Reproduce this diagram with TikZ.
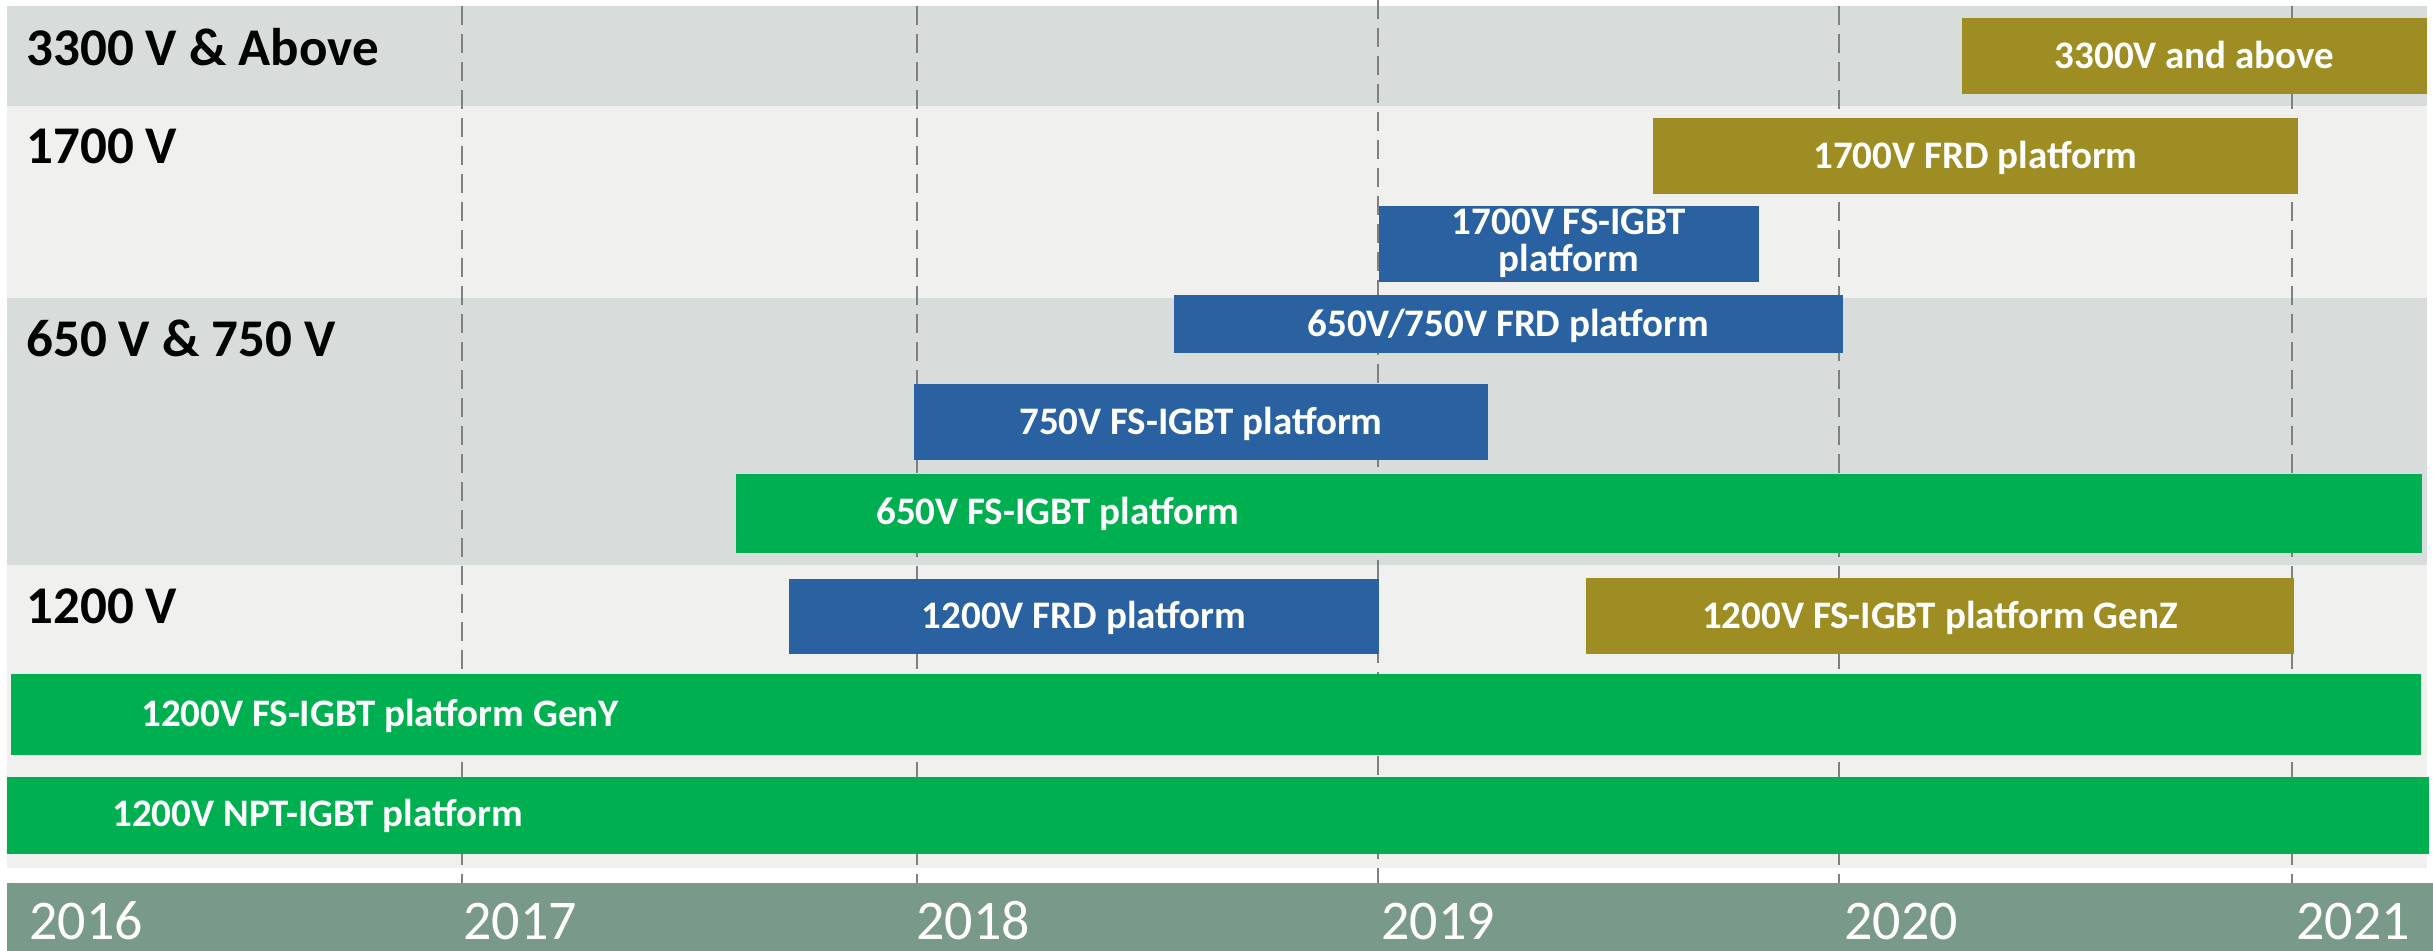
\documentclass[tikz,border=0pt]{standalone}
\usepackage{fontspec}
\setmainfont{Carlito}
\definecolor{bandA}{HTML}{D8DCDB}
\definecolor{bandB}{HTML}{F0F0EE}
\definecolor{gr}{HTML}{00AF50}
\definecolor{bl}{HTML}{2A62A1}
\definecolor{ol}{HTML}{9E8D22}
\definecolor{yr}{HTML}{799A88}
\definecolor{dl}{HTML}{808080}
\newcommand{\tlbar}[7]{%
  \node[barbox, fill=#6, minimum width={(#4-#2)*0.5pt}, minimum height={(#5-#3)*0.5pt}]
    (#1) at ({(#2+#4)/2},{(#3+#5)/2}) {#7};}
\begin{document}
\begin{tikzpicture}[x=0.5pt,y=-0.5pt,
 barbox/.style={rectangle, inner sep=0pt, text=white,
   text height=12.5pt, text depth=0pt,
   font=\fontsize{19.5}{18.5}\selectfont\bfseries},
 barlabel/.style={anchor=base west, inner sep=0pt, text=white,
   font=\fontsize{19.5}{18.5}\selectfont\bfseries},
 rowlabel/.style={anchor=base west, inner sep=0pt, text=black,
   font=\fontsize{26.5}{30}\selectfont\bfseries},
 yearlabel/.style={anchor=base west, inner sep=0pt, text=white,
   font=\fontsize{28}{32}\selectfont},
 tick/.style={draw=dl, line width=1pt, dash pattern=on 9.5pt off 4.5pt}]
\useasboundingbox (0,0) rectangle (2433,951);
\fill[white] (0,0) rectangle (2433,951);
% bands
\fill[bandA] (7,6) rectangle (2427,106);
\fill[bandB] (7,106) rectangle (2427,298);
\fill[bandA] (7,298) rectangle (2427,565);
\fill[bandB] (7,565) rectangle (2427,868);
\fill[yr] (7,883) rectangle (2433,951);
% year ticks
\draw[tick] (462,6) -- (462,883);
\draw[tick] (917,6) -- (917,883);
\draw[tick] (1378,0) -- (1378,883);
\draw[tick] (1839,6) -- (1839,883);
\draw[tick] (2292,6) -- (2292,883);
% row labels
\node[rowlabel] (r3300) at (26,66) {3300 V \& Above};
\node[rowlabel] (r1700) at (26,164) {1700 V};
\node[rowlabel] (r650) at (26,357) {650 V \& 750 V};
\node[rowlabel] (r1200) at (26,624) {1200 V};
% bars
\tlbar{b3300}{1962}{18}{2427}{94}{ol}{3300V and above}
\tlbar{b1700frd}{1653}{118}{2298}{194}{ol}{1700V FRD platform}
\tlbar{b1700igbt}{1379}{206}{1759}{282}{bl}{}
\node[barlabel, anchor=base] (t1700a) at (1569,235) {1700V FS-IGBT};
\node[barlabel, anchor=base] (t1700b) at (1569,272) {platform};
\tlbar{b650frd}{1174}{295}{1843}{353}{bl}{650V/750V FRD platform}
\tlbar{b750igbt}{914}{384}{1488}{460}{bl}{750V FS-IGBT platform}
\tlbar{b650igbt}{736}{474}{2422}{553}{gr}{}
\node[barlabel] (t650igbt) at (876,525) {650V FS-IGBT platform};
\tlbar{b1200frd}{789}{579}{1379}{654}{bl}{1200V FRD platform}
\tlbar{bgenz}{1586}{578}{2294}{654}{ol}{1200V FS-IGBT platform GenZ}
\tlbar{bgeny}{11}{674}{2421}{755}{gr}{}
\node[barlabel] (tgeny) at (141,727) {1200V FS-IGBT platform GenY};
\tlbar{bnpt}{7}{777}{2429}{854}{gr}{}
\node[barlabel] (tnpt) at (112,827) {1200V NPT-IGBT platform};
% years
\node[yearlabel] (y2016) at (29,939) {2016};
\node[yearlabel] (y2017) at (463,939) {2017};
\node[yearlabel] (y2018) at (916,939) {2018};
\node[yearlabel] (y2019) at (1381,939) {2019};
\node[yearlabel] (y2020) at (1844,939) {2020};
\node[yearlabel] (y2021) at (2296,939) {2021};
\end{tikzpicture}
\end{document}
